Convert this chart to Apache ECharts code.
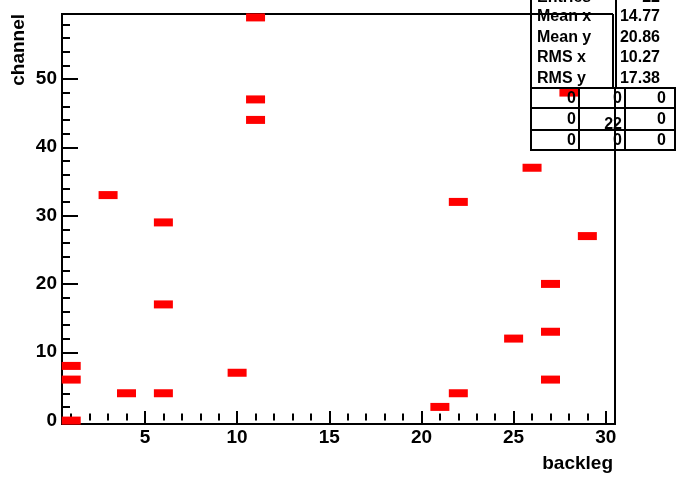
<!DOCTYPE html>
<html>
<head>
<meta charset="utf-8">
<script src="https://cdn.jsdelivr.net/npm/echarts@6/dist/echarts.min.js"></script>
<style>
html,body{margin:0;padding:0;background:#fff;}
#c{width:676px;height:482px;}
</style>
</head>
<body>
<div id="c"></div>
<script>
// data (backleg, channel)
var backleg = [1, 1, 1, 3, 4, 6, 6, 6, 10, 11, 11, 11, 21, 22, 22, 25, 26, 27, 27, 27, 29, 28];
var channel = [0, 6, 8, 33, 4, 4, 17, 29, 7, 59, 47, 44, 2, 4, 32, 12, 37, 20, 13, 6, 27, 48];
var xMajorTicks = [5, 10, 15, 20, 25, 30];
var yMajorTicks = [0, 10, 20, 30, 40, 50];
var statsLabels = ['Entries', 'Mean x', 'Mean y', 'RMS x', 'RMS y'];
var statsValues = ['22', '14.77', '20.86', '10.27', '17.38'];
var overflowCells = [['0', '0', '0'], ['0', '22', '0'], ['0', '0', '0']];

var xMinor = [], yMinor = [];
for (var i = 1; i <= 30; i++) if (i % 5 !== 0) xMinor.push(i);
for (var j = 2; j <= 58; j += 2) if (j % 10 !== 0) yMinor.push(j);

var pts = backleg.map(function (b, k) { return [b, channel[k]]; });

var FONT = '"Liberation Sans", Arial, Helvetica, sans-serif';
var chart = echarts.init(document.getElementById('c'));

// stats box graphics
var g = [];
g.push({type: 'rect', shape: {x: 531, y: -20, width: 150, height: 108}, style: {fill: '#fff', stroke: '#000', lineWidth: 2}, z: 100});
g.push({type: 'line', shape: {x1: 616, y1: -5, x2: 616, y2: 88}, style: {stroke: '#000', lineWidth: 2}, z: 101});
var rowY = [-2, 17, 38, 58, 79];
statsLabels.forEach(function (t, k) {
  g.push({type: 'text', x: 537, y: rowY[k], style: {text: t, fill: '#000', font: 'bold 16px ' + FONT, textAlign: 'left', textVerticalAlign: 'middle'}, z: 102});
  g.push({type: 'text', x: 660, y: rowY[k], style: {text: statsValues[k], fill: '#000', font: 'bold 16px ' + FONT, textAlign: 'right', textVerticalAlign: 'middle'}, z: 102});
});
// overflow grid
var gy = [88, 108, 130, 150];
g.push({type: 'rect', shape: {x: 531, y: 88, width: 144, height: 62}, style: {fill: 'none', stroke: '#000', lineWidth: 2}, z: 101});
g.push({type: 'line', shape: {x1: 531, y1: 108, x2: 675, y2: 108}, style: {stroke: '#000', lineWidth: 2}, z: 101});
g.push({type: 'line', shape: {x1: 531, y1: 130, x2: 675, y2: 130}, style: {stroke: '#000', lineWidth: 2}, z: 101});
g.push({type: 'line', shape: {x1: 579, y1: 88, x2: 579, y2: 150}, style: {stroke: '#000', lineWidth: 2}, z: 101});
g.push({type: 'line', shape: {x1: 625, y1: 88, x2: 625, y2: 150}, style: {stroke: '#000', lineWidth: 2}, z: 101});
var cellRight = [576, 622, 666];
overflowCells.forEach(function (row, r) {
  row.forEach(function (t, c) {
    var yy = (gy[r] + gy[r + 1]) / 2 + 1;
    if (t === '22') yy += 5;
    g.push({type: 'text', x: cellRight[c], y: yy, style: {text: t, fill: '#000', font: 'bold 16px ' + FONT, textAlign: 'right', textVerticalAlign: 'middle'}, z: 102});
  });
});
// plot frame segments drawn over the stats box
g.push({type: 'line', shape: {x1: 531, y1: 14, x2: 613, y2: 14}, style: {stroke: '#000', lineWidth: 2}, z: 103});
g.push({type: 'line', shape: {x1: 613, y1: 14, x2: 613, y2: 88}, style: {stroke: '#000', lineWidth: 2}, z: 103});
g.push({type: 'line', shape: {x1: 615, y1: 88, x2: 615, y2: 160}, style: {stroke: '#000', lineWidth: 2}, z: 103});

var option = {
  backgroundColor: '#fff',
  animation: false,
  grid: {left: 62, top: 14, width: 553, height: 410, show: true, borderColor: '#000', borderWidth: 2, backgroundColor: 'transparent'},
  xAxis: [{
    type: 'value', min: 0.5, max: 30.5, position: 'bottom',
    name: 'backleg', nameLocation: 'end', nameGap: 0,
    nameTextStyle: {fontFamily: FONT, fontWeight: 'bold', fontSize: 19, color: '#000', align: 'right', verticalAlign: 'top', padding: [30, 2, 0, 0]},
    axisLine: {show: true, onZero: false, lineStyle: {color: '#000', width: 2}},
    axisTick: {show: true, inside: true, length: 13, customValues: xMajorTicks, lineStyle: {color: '#000', width: 2}},
    axisLabel: {show: true, customValues: xMajorTicks, margin: 4, fontFamily: FONT, fontWeight: 'bold', fontSize: 19, color: '#000'},
    splitLine: {show: false}
  }, {
    type: 'value', min: 0.5, max: 30.5, position: 'bottom', gridIndex: 0,
    axisLine: {show: false},
    axisTick: {show: true, inside: true, length: 7, customValues: xMinor, lineStyle: {color: '#000', width: 2}},
    axisLabel: {show: false},
    splitLine: {show: false}
  }],
  yAxis: [{
    type: 'value', min: -0.5, max: 59.5, position: 'left',
    name: 'channel', nameLocation: 'end', nameRotate: 90, nameGap: 0,
    nameTextStyle: {fontFamily: FONT, fontWeight: 'bold', fontSize: 19, color: '#000', align: 'right', verticalAlign: 'bottom', padding: [0, 0, 34, 0]},
    axisLine: {show: true, onZero: false, lineStyle: {color: '#000', width: 2}},
    axisTick: {show: true, inside: true, length: 16, customValues: yMajorTicks, lineStyle: {color: '#000', width: 2}},
    axisLabel: {show: true, customValues: yMajorTicks, margin: 5, fontFamily: FONT, fontWeight: 'bold', fontSize: 19, color: '#000'},
    splitLine: {show: false}
  }, {
    type: 'value', min: -0.5, max: 59.5, position: 'left',
    axisLine: {show: false},
    axisTick: {show: true, inside: true, length: 8, customValues: yMinor, lineStyle: {color: '#000', width: 2}},
    axisLabel: {show: false},
    splitLine: {show: false}
  }],
  series: [{
    type: 'scatter', xAxisIndex: 0, yAxisIndex: 0,
    data: pts,
    symbol: 'rect', symbolSize: [19, 8],
    itemStyle: {color: '#ff0000', opacity: 1},
    clip: true
  }],
  graphic: g
};
chart.setOption(option);
</script>
</body>
</html>
